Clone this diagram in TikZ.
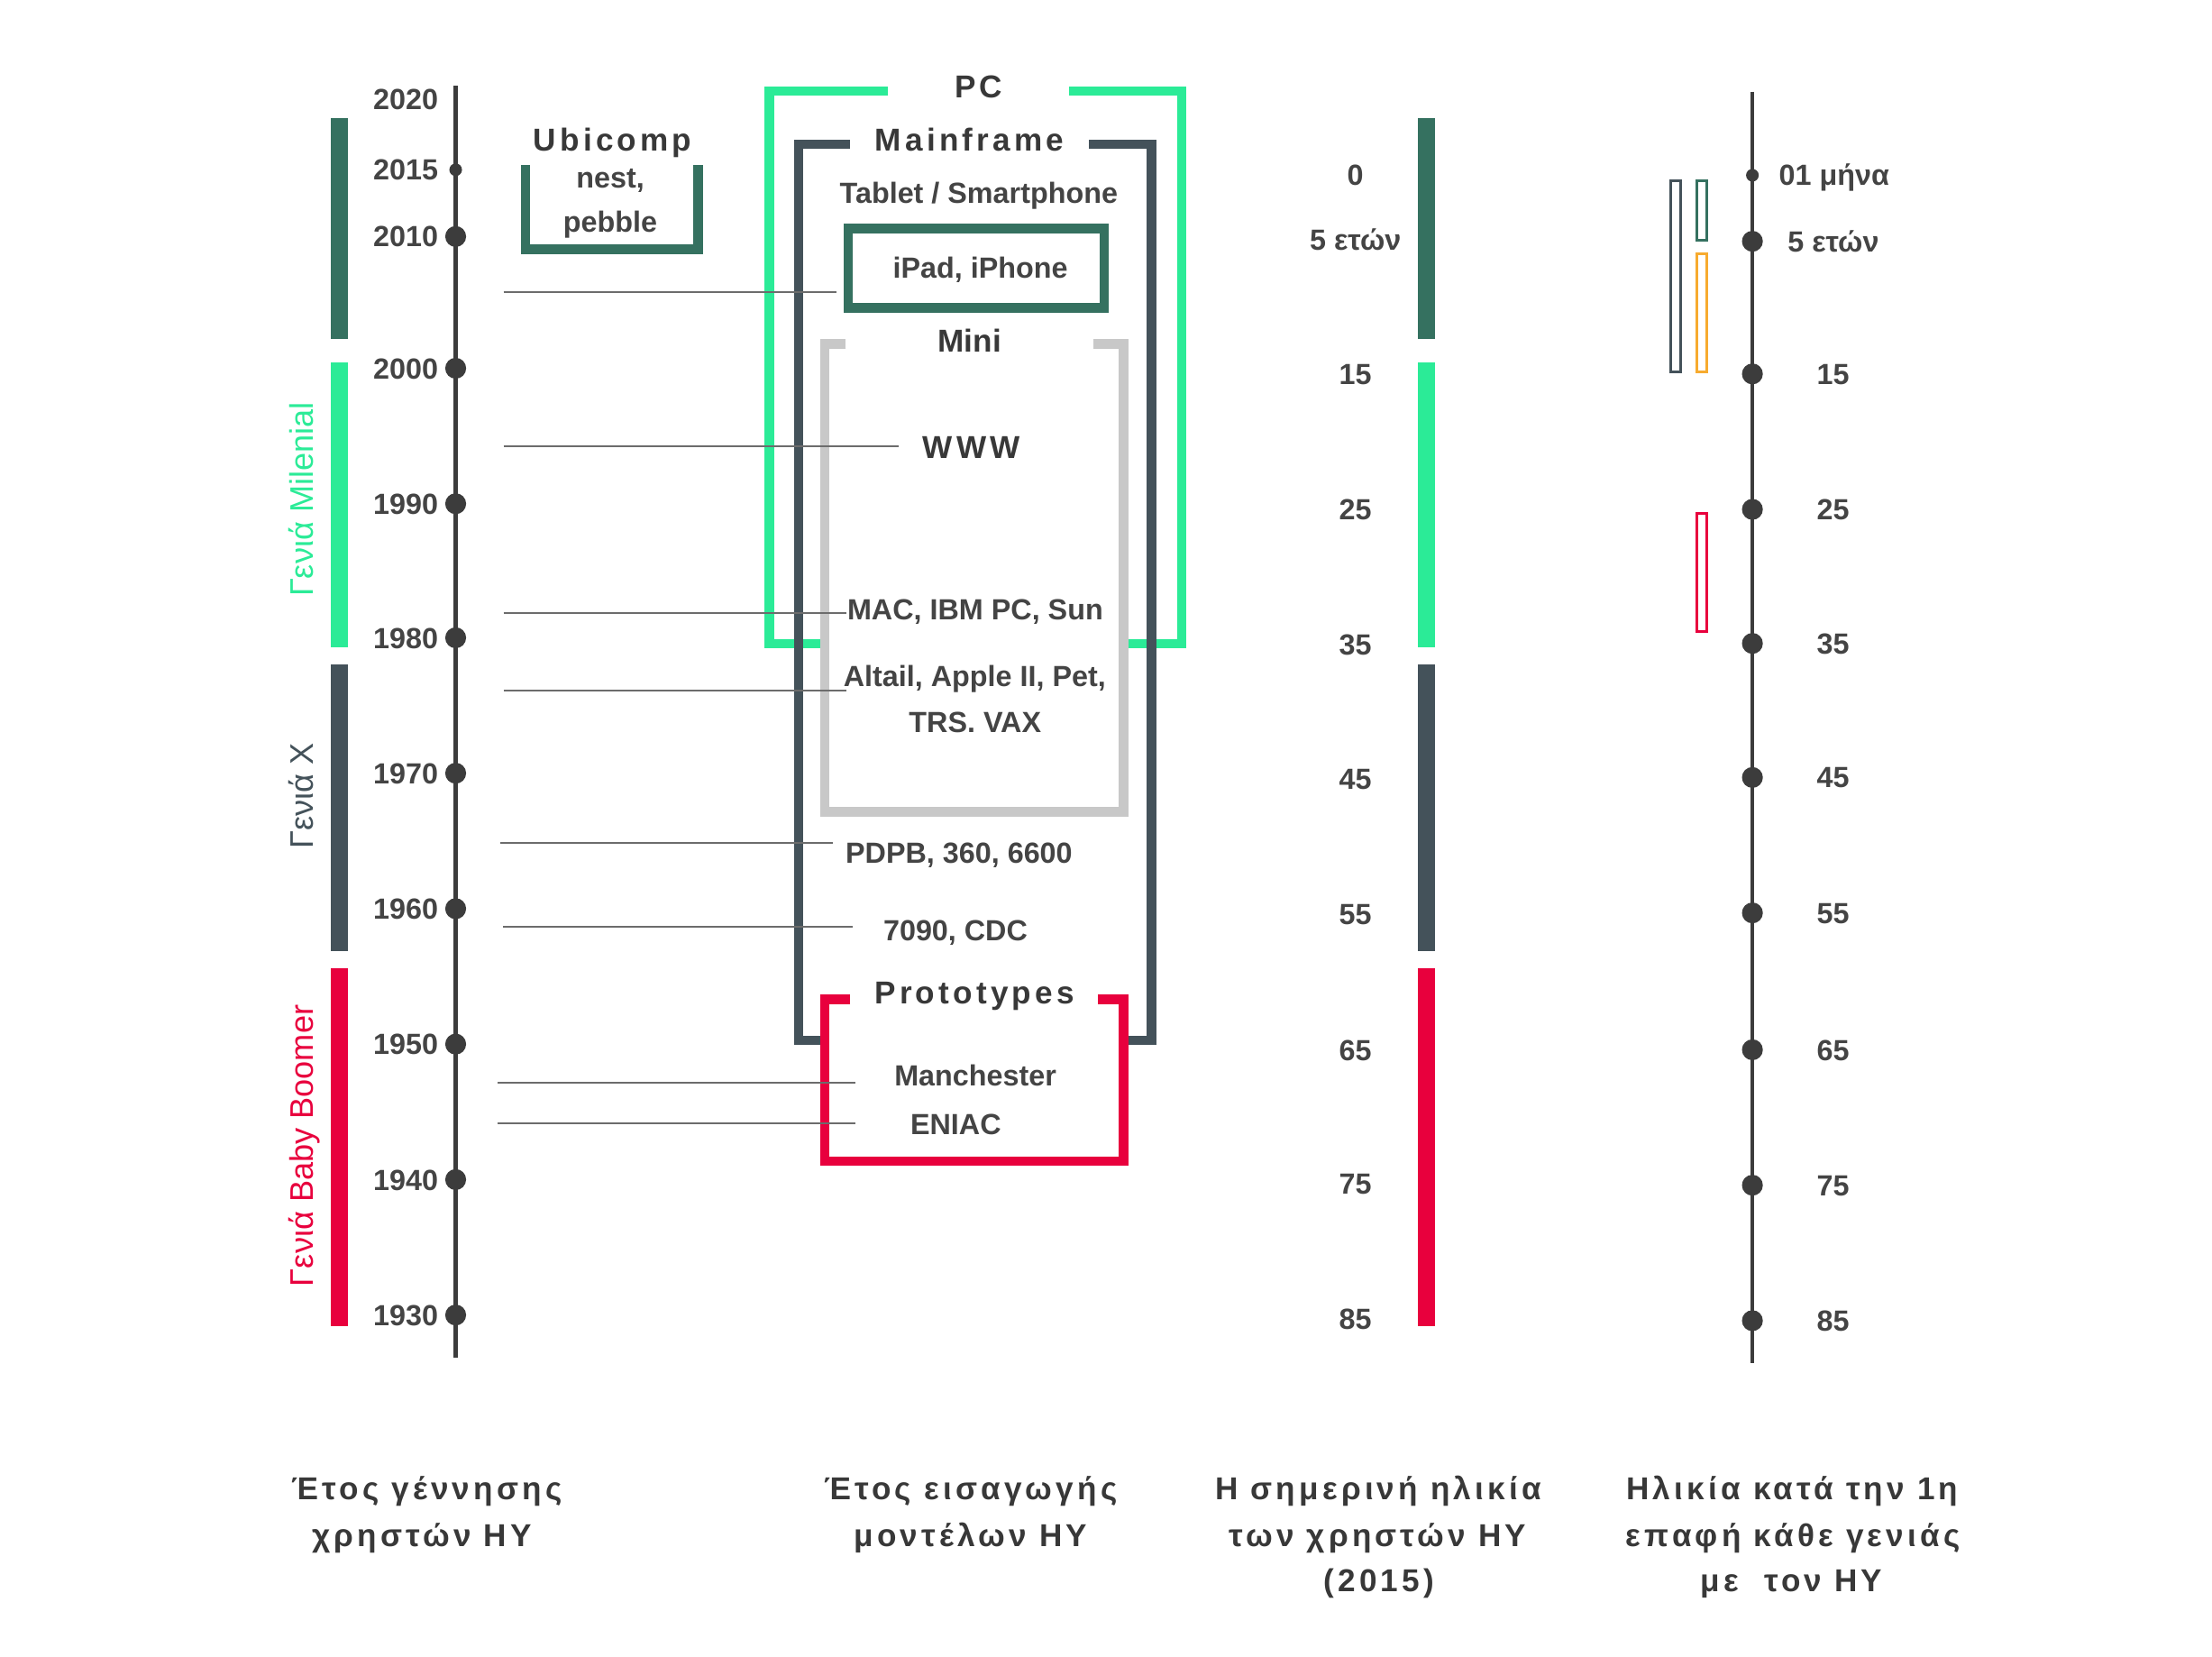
\documentclass[tikz,border=0pt]{standalone}
\usepackage{fontspec}
\setmainfont{Liberation Sans}
\newfontfamily\spaced[LetterSpace=12]{Liberation Sans}
\usepackage{tikz}
\definecolor{ink}{HTML}{444444}
\definecolor{inkdark}{HTML}{383838}
\definecolor{axisc}{HTML}{3C3C3C}
\definecolor{leadc}{HTML}{6C6C6C}
\definecolor{dkgreen}{HTML}{357160}
\definecolor{mint}{HTML}{2BEB97}
\definecolor{slate}{HTML}{44525A}
\definecolor{crimson}{HTML}{E8003D}
\definecolor{silver}{HTML}{C8C8C8}
\definecolor{amber}{HTML}{F7AB2F}
\tikzset{
  ax/.style={line width=1.2pt, draw=axisc},
  leader/.style={line width=0.55pt, draw=leadc},
  frame/.style={line width=3pt, line join=miter},
  slim/.style={line width=0.95pt},
  dot/.style={circle, fill=axisc, inner sep=0pt, minimum size=6.6pt},
  sdot/.style={circle, fill=axisc, inner sep=0pt, minimum size=4pt},
  lbl/.style={font=\fontsize{9.2}{11}\selectfont\bfseries, text=ink,
    inner sep=0pt, text height=6.6pt, text depth=0pt},
  head/.style={font=\spaced\fontsize{10}{12}\selectfont\bfseries, text=inkdark,
    inner sep=0pt, text height=7.2pt, text depth=0pt},
  gen/.style={font=\fontsize{10.3}{12}\selectfont, rotate=90,
    inner sep=0pt, text height=7.4pt, text depth=0pt}
}
\newcommand{\OpenBox}[7]{% colour,left,right,top,bottom,gap from,gap to
  \draw[frame, draw=#1] (#6,#4) -- (#2,#4) -- (#2,#5) -- (#3,#5) -- (#3,#4) -- (#7,#4);
}

\begin{document}
\begin{tikzpicture}[x=0.01565cm, y=-0.01565cm]
  \useasboundingbox (0,0) rectangle (1568,1174);

  % generation bars (birth years and present age)
  \fill[dkgreen] (234.7,84) rectangle (246.9,240);
  \fill[mint]    (234.7,257) rectangle (246.9,459);
  \fill[slate]   (234.7,471) rectangle (246.9,674);
  \fill[crimson] (234.7,686) rectangle (246.9,940);
  \fill[dkgreen] (1005,84) rectangle (1017.3,240);
  \fill[mint]    (1005,257) rectangle (1017.3,459);
  \fill[slate]   (1005,471) rectangle (1017.3,674);
  \fill[crimson] (1005,686) rectangle (1017.3,940);
  \node[gen, text=mint]    (gmil) at (214,354) {Γενιά Milenial};
  \node[gen, text=slate]   (gx)   at (214,564) {Γενιά X};
  \node[gen, text=crimson] (gbb)  at (214,812) {Γενιά Baby Boomer};

  % birth year axis
  \coordinate (byTop) at (323,60.7);
  \coordinate (byBot) at (323,962);
  \draw[ax] (byTop) -- (byBot);
  \node[sdot] (d2015) at (323,120.3) {};
  \node[dot]  (d2010) at (323,167.6) {};
  \node[dot]  (d2000) at (323,261) {};
  \node[dot]  (d1990) at (323,357) {};
  \node[dot]  (d1980) at (323,452) {};
  \node[dot]  (d1970) at (323,548) {};
  \node[dot]  (d1960) at (323,644) {};
  \node[dot]  (d1950) at (323,740) {};
  \node[dot]  (d1940) at (323,836) {};
  \node[dot]  (d1930) at (323,932) {};
  \node[lbl, anchor=east] (y2020) at (311,70.4) {2020};
  \node[lbl, anchor=east] (y2015) at (311,120.3) {2015};
  \node[lbl, anchor=east] (y2010) at (311,167.6) {2010};
  \node[lbl, anchor=east] (y2000) at (311,261) {2000};
  \node[lbl, anchor=east] (y1990) at (311,357) {1990};
  \node[lbl, anchor=east] (y1980) at (311,452) {1980};
  \node[lbl, anchor=east] (y1970) at (311,548) {1970};
  \node[lbl, anchor=east] (y1960) at (311,644) {1960};
  \node[lbl, anchor=east] (y1950) at (311,740) {1950};
  \node[lbl, anchor=east] (y1940) at (311,836) {1940};
  \node[lbl, anchor=east] (y1930) at (311,932) {1930};

  % model families
  \OpenBox{mint}{545.5}{837.8}{64.4}{456.3}{629.4}{757.9}
  \fill[white] (584.5,243.9) rectangle (796.6,575.3);
  \OpenBox{silver}{584.5}{796.6}{243.9}{575.3}{599.6}{774.9}
  \OpenBox{slate}{566.2}{816.3}{102.3}{737.4}{602.4}{771.7}
  \fill[white] (584.5,708.2) rectangle (796.6,822.9);
  \OpenBox{crimson}{584.5}{796.6}{708.2}{822.9}{602.8}{778.5}
  \draw[frame, draw=dkgreen] (601.3,162.1) rectangle (782.6,218.1);
  \draw[frame, draw=dkgreen] (372.5,117.1) -- (372.5,176.8) -- (494.8,176.8) -- (494.8,117.1);

  % leaders from the birth axis
  \coordinate (lIpad) at (357,207.2);   \coordinate (rIpad) at (592.8,207.2);
  \coordinate (lWww)  at (357,316.3);   \coordinate (rWww)  at (636.9,316.3);
  \coordinate (lMac)  at (357,434.5);   \coordinate (rMac)  at (599.8,434.5);
  \coordinate (lAlt)  at (357,489.5);   \coordinate (rAlt)  at (599.8,489.5);
  \coordinate (lPdp)  at (354.5,597.4); \coordinate (rPdp)  at (590.4,597.4);
  \coordinate (lCdc)  at (356.5,656.7); \coordinate (rCdc)  at (604.7,656.7);
  \coordinate (lMan)  at (353,767.4);   \coordinate (rMan)  at (606.4,767.4);
  \coordinate (lEni)  at (353,796.4);   \coordinate (rEni)  at (606.4,796.4);
  \draw[leader] (lIpad) -- (rIpad);
  \draw[leader] (lWww) -- (rWww);
  \draw[leader] (lMac) -- (rMac);
  \draw[leader] (lAlt) -- (rAlt);
  \draw[leader] (lPdp) -- (rPdp);
  \draw[leader] (lCdc) -- (rCdc);
  \draw[leader] (lMan) -- (rMan);
  \draw[leader] (lEni) -- (rEni);

  \node[head] (pc)     at (693.8,61.2) {PC};
  \node[head] (mainf)  at (687.3,98.7) {Mainframe};
  \node[head] (ubi)    at (434.2,98.7) {Ubicomp};
  \node[lbl]  (nest)   at (432.6,125.7) {nest,};
  \node[lbl]  (pebble) at (432.6,157) {pebble};
  \node[lbl]  (tablet) at (693.8,136.6) {Tablet / Smartphone};
  \node[lbl]  (ipad)   at (694.9,189.8) {iPad, iPhone};
  \node[lbl, font=\fontsize{10}{12}\selectfont\bfseries, text=inkdark,
    text height=7.2pt] (mini) at (687.4,241.4) {Mini};
  \node[head] (www)    at (688.6,317) {WWW};
  \node[lbl]  (mac)    at (691.3,432.1) {MAC, IBM PC, Sun};
  \node[lbl]  (altair) at (690.9,479.2) {Altail, Apple II, Pet,};
  \node[lbl]  (trs)    at (691.2,511.8) {TRS. VAX};
  \node[lbl]  (pdp)    at (679.8,604.6) {PDPB, 360, 6600};
  \node[lbl]  (cdc)    at (677.3,659.2) {7090, CDC};
  \node[head] (proto)  at (690.8,703.5) {Prototypes};
  \node[lbl]  (manch)  at (691.4,761.9) {Manchester};
  \node[lbl]  (eniac)  at (677.5,796.8) {ENIAC};

  % present age
  \node[lbl] (a0)  at (960.8,123.8) {0};
  \node[lbl] (a5)  at (960.8,169.8) {5 ετών};
  \node[lbl] (a15) at (960.8,265) {15};
  \node[lbl] (a25) at (960.8,361) {25};
  \node[lbl] (a35) at (960.8,457) {35};
  \node[lbl] (a45) at (960.8,552) {45};
  \node[lbl] (a55) at (960.8,648) {55};
  \node[lbl] (a65) at (960.8,744) {65};
  \node[lbl] (a75) at (960.8,839) {75};
  \node[lbl] (a85) at (960.8,935) {85};

  % age at first contact
  \coordinate (faTop) at (1242.2,65);
  \coordinate (faBot) at (1242.2,966);
  \draw[ax] (faTop) -- (faBot);
  \node[sdot] (f1m) at (1242.2,124.2) {};
  \node[dot]  (f5)  at (1242.2,171) {};
  \node[dot]  (f15) at (1242.2,265) {};
  \node[dot]  (f25) at (1242.2,361) {};
  \node[dot]  (f35) at (1242.2,456) {};
  \node[dot]  (f45) at (1242.2,551) {};
  \node[dot]  (f55) at (1242.2,647) {};
  \node[dot]  (f65) at (1242.2,744) {};
  \node[dot]  (f75) at (1242.2,840) {};
  \node[dot]  (f85) at (1242.2,936) {};
  \node[lbl, anchor=west] (t1m) at (1260.6,124.2) {01 μήνα};
  \node[lbl, anchor=west] (t5)  at (1266.8,171) {5 ετών};
  \node[lbl] (t15) at (1299.4,265) {15};
  \node[lbl] (t25) at (1299.4,361) {25};
  \node[lbl] (t35) at (1299.4,456) {35};
  \node[lbl] (t45) at (1299.4,551) {45};
  \node[lbl] (t55) at (1299.4,647) {55};
  \node[lbl] (t65) at (1299.4,744) {65};
  \node[lbl] (t75) at (1299.4,840) {75};
  \node[lbl] (t85) at (1299.4,936) {85};
  \draw[slim, draw=slate]   (1184.3,128) rectangle (1191.2,263.6);
  \draw[slim, draw=dkgreen] (1202.8,128) rectangle (1210,170.1);
  \draw[slim, draw=amber]   (1202.8,180) rectangle (1210,263.6);
  \draw[slim, draw=crimson] (1202.8,364) rectangle (1210,447.5);

  % column captions
  \node[head] (c1a) at (302.5,1055) {Έτος γέννησης};
  \node[head] (c1b) at (299,1088) {χρηστών HY};
  \node[head] (c2a) at (688,1055) {Έτος εισαγωγής};
  \node[head] (c2b) at (688,1088) {μοντέλων HY};
  \node[head] (c3a) at (977,1055) {Η σημερινή ηλικία};
  \node[head] (c3b) at (976.5,1088) {των χρηστών HY};
  \node[head] (c3c) at (977.5,1120) {(2015)};
  \node[head] (c4a) at (1270.5,1055) {Ηλικία κατά την 1η};
  \node[head] (c4b) at (1271,1088) {επαφή κάθε γενιάς};
  \node[head] (c4c) at (1270,1120) {με~~τον HY};
\end{tikzpicture}
\end{document}
